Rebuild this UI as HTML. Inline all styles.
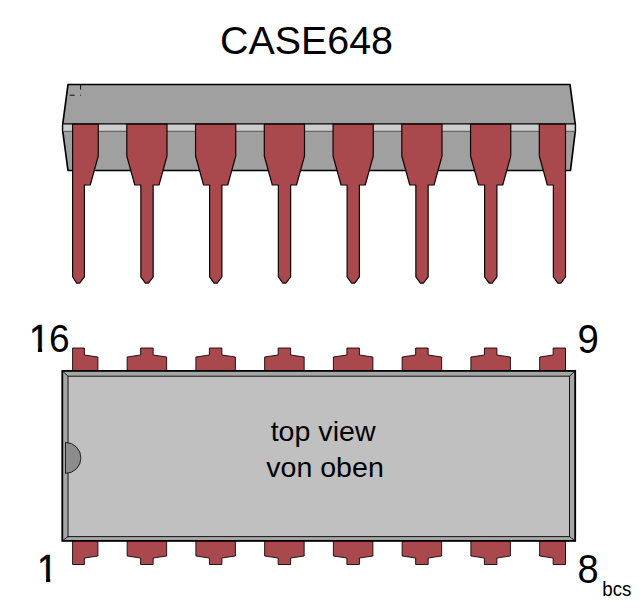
<!DOCTYPE html>
<html><head><meta charset="utf-8"><title>CASE648</title>
<style>
html,body{margin:0;padding:0;background:#fff;}
body{width:640px;height:610px;overflow:hidden;font-family:"Liberation Sans",sans-serif;}
svg{display:block;}
text{font-family:"Liberation Sans",sans-serif;fill:#000;}
</style></head><body>
<svg width="640" height="610" viewBox="0 0 640 610">
<defs>
<clipPath id="one"><path d="M0,-40 H30 V-4.6 H13.2 V0 H9.0 V-4.6 H0 Z"/></clipPath>
</defs>
<rect width="640" height="610" fill="#fff"/>
<text x="220" y="54.2" font-size="39.4">CASE648</text>

<polygon points="68,84.5 570,84.5 575.3,124.5 575.3,131 570.5,170.5 68,170.5 62.7,131 62.7,124.5" fill="#a0a0a0" stroke="#000" stroke-width="1.7" stroke-linejoin="round"/>
<rect x="63.4" y="124" width="511.2" height="7" fill="#cdcdcd"/>
<line x1="62.7" y1="131.3" x2="575.3" y2="131.3" stroke="#505050" stroke-width="0.9"/>
<line x1="62.7" y1="123.9" x2="575.3" y2="123.9" stroke="#000" stroke-width="1.3"/>
<path d="M80.6,85 V89.7 M80.2,95.2 h0.9 M69.7,95.2 H74.7" stroke="#000" stroke-width="0.9" fill="none"/>
<g>
<polygon points="72.60,124.20 98.25,124.20 98.25,156.00 90.25,185.00 84.40,185.00 84.40,276.80 79.65,283.10 76.65,283.10 72.60,276.80 72.60,185.00 72.60,185.00 72.60,156.00" fill="#a9494e" stroke="#120404" stroke-width="1.2" stroke-linejoin="round"/>
<polygon points="126.80,124.20 167.00,124.20 167.00,156.00 159.00,185.00 153.15,185.00 153.15,276.80 148.40,283.10 145.40,283.10 140.85,276.80 140.85,185.00 134.80,185.00 126.80,156.00" fill="#a9494e" stroke="#120404" stroke-width="1.2" stroke-linejoin="round"/>
<polygon points="195.55,124.20 235.75,124.20 235.75,156.00 227.75,185.00 221.90,185.00 221.90,276.80 217.15,283.10 214.15,283.10 209.60,276.80 209.60,185.00 203.55,185.00 195.55,156.00" fill="#a9494e" stroke="#120404" stroke-width="1.2" stroke-linejoin="round"/>
<polygon points="264.30,124.20 304.50,124.20 304.50,156.00 296.50,185.00 290.65,185.00 290.65,276.80 285.90,283.10 282.90,283.10 278.35,276.80 278.35,185.00 272.30,185.00 264.30,156.00" fill="#a9494e" stroke="#120404" stroke-width="1.2" stroke-linejoin="round"/>
<polygon points="333.05,124.20 373.25,124.20 373.25,156.00 365.25,185.00 359.40,185.00 359.40,276.80 354.65,283.10 351.65,283.10 347.10,276.80 347.10,185.00 341.05,185.00 333.05,156.00" fill="#a9494e" stroke="#120404" stroke-width="1.2" stroke-linejoin="round"/>
<polygon points="401.80,124.20 442.00,124.20 442.00,156.00 434.00,185.00 428.15,185.00 428.15,276.80 423.40,283.10 420.40,283.10 415.85,276.80 415.85,185.00 409.80,185.00 401.80,156.00" fill="#a9494e" stroke="#120404" stroke-width="1.2" stroke-linejoin="round"/>
<polygon points="470.55,124.20 510.75,124.20 510.75,156.00 502.75,185.00 496.90,185.00 496.90,276.80 492.15,283.10 489.15,283.10 484.60,276.80 484.60,185.00 478.55,185.00 470.55,156.00" fill="#a9494e" stroke="#120404" stroke-width="1.2" stroke-linejoin="round"/>
<polygon points="539.30,124.20 565.50,124.20 565.50,156.00 565.50,185.00 565.50,185.00 565.50,276.80 560.90,283.10 557.90,283.10 553.35,276.80 553.35,185.00 547.30,185.00 539.30,156.00" fill="#a9494e" stroke="#120404" stroke-width="1.2" stroke-linejoin="round"/>
</g>
<g>
<polygon points="72.60,371.00 72.60,357.00 72.60,355.00 72.60,348.00 84.40,348.00 84.40,355.00 97.90,357.00 97.90,371.00" fill="#a9494e" stroke="#120404" stroke-width="0.9"/>
<polygon points="72.60,540.50 72.60,556.00 72.60,558.00 72.60,564.50 84.40,564.50 84.40,558.00 97.90,556.00 97.90,540.50" fill="#a9494e" stroke="#120404" stroke-width="0.9"/>
<polygon points="127.15,371.00 127.15,357.00 140.65,355.00 140.65,348.00 153.15,348.00 153.15,355.00 166.65,357.00 166.65,371.00" fill="#a9494e" stroke="#120404" stroke-width="0.9"/>
<polygon points="127.15,540.50 127.15,556.00 140.65,558.00 140.65,564.50 153.15,564.50 153.15,558.00 166.65,556.00 166.65,540.50" fill="#a9494e" stroke="#120404" stroke-width="0.9"/>
<polygon points="195.90,371.00 195.90,357.00 209.40,355.00 209.40,348.00 221.90,348.00 221.90,355.00 235.40,357.00 235.40,371.00" fill="#a9494e" stroke="#120404" stroke-width="0.9"/>
<polygon points="195.90,540.50 195.90,556.00 209.40,558.00 209.40,564.50 221.90,564.50 221.90,558.00 235.40,556.00 235.40,540.50" fill="#a9494e" stroke="#120404" stroke-width="0.9"/>
<polygon points="264.65,371.00 264.65,357.00 278.15,355.00 278.15,348.00 290.65,348.00 290.65,355.00 304.15,357.00 304.15,371.00" fill="#a9494e" stroke="#120404" stroke-width="0.9"/>
<polygon points="264.65,540.50 264.65,556.00 278.15,558.00 278.15,564.50 290.65,564.50 290.65,558.00 304.15,556.00 304.15,540.50" fill="#a9494e" stroke="#120404" stroke-width="0.9"/>
<polygon points="333.40,371.00 333.40,357.00 346.90,355.00 346.90,348.00 359.40,348.00 359.40,355.00 372.90,357.00 372.90,371.00" fill="#a9494e" stroke="#120404" stroke-width="0.9"/>
<polygon points="333.40,540.50 333.40,556.00 346.90,558.00 346.90,564.50 359.40,564.50 359.40,558.00 372.90,556.00 372.90,540.50" fill="#a9494e" stroke="#120404" stroke-width="0.9"/>
<polygon points="402.15,371.00 402.15,357.00 415.65,355.00 415.65,348.00 428.15,348.00 428.15,355.00 441.65,357.00 441.65,371.00" fill="#a9494e" stroke="#120404" stroke-width="0.9"/>
<polygon points="402.15,540.50 402.15,556.00 415.65,558.00 415.65,564.50 428.15,564.50 428.15,558.00 441.65,556.00 441.65,540.50" fill="#a9494e" stroke="#120404" stroke-width="0.9"/>
<polygon points="470.90,371.00 470.90,357.00 484.40,355.00 484.40,348.00 496.90,348.00 496.90,355.00 510.40,357.00 510.40,371.00" fill="#a9494e" stroke="#120404" stroke-width="0.9"/>
<polygon points="470.90,540.50 470.90,556.00 484.40,558.00 484.40,564.50 496.90,564.50 496.90,558.00 510.40,556.00 510.40,540.50" fill="#a9494e" stroke="#120404" stroke-width="0.9"/>
<polygon points="539.65,371.00 539.65,357.00 553.15,355.00 553.15,348.00 565.50,348.00 565.50,355.00 565.50,357.00 565.50,371.00" fill="#a9494e" stroke="#120404" stroke-width="0.9"/>
<polygon points="539.65,540.50 539.65,556.00 553.15,558.00 553.15,564.50 565.50,564.50 565.50,558.00 565.50,556.00 565.50,540.50" fill="#a9494e" stroke="#120404" stroke-width="0.9"/>
</g>
<rect x="62.3" y="370.9" width="512.9" height="170" fill="#a6a6a6" stroke="#000" stroke-width="1.8"/>
<rect x="68" y="376.2" width="501.5" height="160.4" fill="#c0c0c0" stroke="#151515" stroke-width="1.0"/>
<path d="M62.3,370.9 L68,376.2 M575.2,370.9 L569.5,376.2 M62.3,540.9 L68,536.6 M575.2,540.9 L569.5,536.6" stroke="#000" stroke-width="0.8"/>
<line x1="68" y1="377.5" x2="68" y2="535.5" stroke="#666" stroke-width="1.1"/><path d="M65.5,442.4 A15.4,15.5 0 0 1 65.5,473.4 Z" fill="#8c8c8c" stroke="#111" stroke-width="0.9"/>
<text transform="translate(323.10,441.40) scale(1,0.9800)" font-size="28.6" text-anchor="middle">top view</text>
<text transform="translate(325.00,476.50) scale(1,0.9800)" font-size="28.6" text-anchor="middle">von oben</text>
<text transform="translate(28.90,352.30) scale(1,1.0650)" font-size="37" clip-path="url(#one)" stroke="#000" stroke-width="0.5">1</text>
<text transform="translate(48.90,352.30) scale(1,1.0650)" font-size="37">6</text>
<text transform="translate(577.60,353.00) scale(1,1.0650)" font-size="38.4">9</text>
<text transform="translate(37.00,582.30) scale(1,1.0650)" font-size="37" clip-path="url(#one)" stroke="#000" stroke-width="0.5">1</text>
<text transform="translate(577.60,583.00) scale(1,1.0650)" font-size="38">8</text>
<text transform="translate(602.30,595.60) scale(1,1.0450)" font-size="18.7">bcs</text>
</svg></body></html>
